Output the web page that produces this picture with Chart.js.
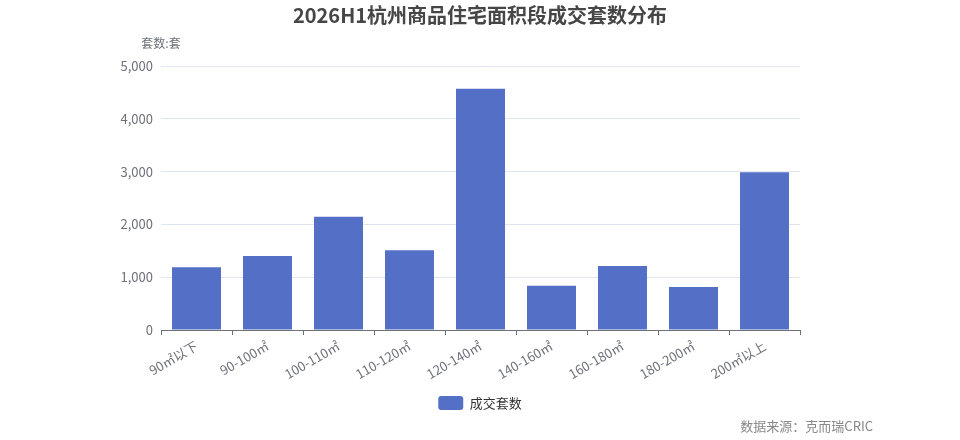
<!DOCTYPE html>
<html>
<head>
<meta charset="utf-8">
<script src="https://cdn.jsdelivr.net/npm/chart.js@4/dist/chart.umd.min.js"></script>
<style>
  html, body { margin: 0; padding: 0; background: #fff; }
  #wrap { width: 960px; height: 440px; position: relative; }
</style>
</head>
<body>
<div id="wrap"><canvas id="c"></canvas></div>
<script>
const chartTitle = '2026H1杭州商品住宅面积段成交套数分布';
const yAxisName = '套数:套';
const sourceText = '数据来源：克而瑞CRIC';
const seriesName = '成交套数';
const categories = ['90㎡以下', '90-100㎡', '100-110㎡', '110-120㎡', '120-140㎡', '140-160㎡', '160-180㎡', '180-200㎡', '200㎡以上'];
const values = [1190, 1400, 2145, 1510, 4570, 840, 1210, 815, 2990];
const yTicks = [0, 1000, 2000, 3000, 4000, 5000];

const FONT = '"Noto Sans CJK SC", "Noto Sans", sans-serif';
const AXIS_COLOR = '#6e7079';
const BAR_COLOR = '#5470c6';

const textPlugin = {
  id: 'texts',
  afterDraw(chart) {
    const ctx = chart.ctx;
    const area = chart.chartArea;
    ctx.save();
    ctx.textBaseline = 'middle';
    ctx.fillStyle = '#464646';
    ctx.font = 'bold 20px ' + FONT;
    ctx.textAlign = 'center';
    ctx.fillText(chartTitle, 480, 15);
    ctx.fillStyle = AXIS_COLOR;
    ctx.font = '12px ' + FONT;
    ctx.fillText(yAxisName, area.left, 43);
    ctx.fillStyle = '#888';
    ctx.font = '13px ' + FONT;
    ctx.textAlign = 'right';
    ctx.fillText(sourceText, 873, 426);
    ctx.restore();
  }
};

new Chart(document.getElementById('c'), {
  type: 'bar',
  data: {
    labels: categories,
    datasets: [{
      label: seriesName,
      data: values,
      backgroundColor: BAR_COLOR,
      borderWidth: 0,
      categoryPercentage: 1.0,
      barPercentage: 0.69
    }]
  },
  options: {
    responsive: true,
    maintainAspectRatio: false,
    animation: false,
    layout: { padding: { left: 0, right: 0, top: 66, bottom: 20 } },
    plugins: {
      legend: {
        position: 'bottom',
        labels: {
          boxWidth: 25,
          boxHeight: 14,
          useBorderRadius: true,
          borderRadius: 3,
          padding: 10,
          color: '#333',
          font: { size: 13, family: FONT }
        }
      },
      tooltip: { enabled: false },
      title: { display: false }
    },
    scales: {
      x: {
        afterFit(scale) { scale.height = 56; },
        grid: {
          offset: true,
          drawOnChartArea: false,
          drawTicks: true,
          tickLength: 5,
          color: AXIS_COLOR
        },
        border: { display: true, color: AXIS_COLOR },
        ticks: {
          color: AXIS_COLOR,
          font: { size: 13, family: FONT },
          maxRotation: 30,
          minRotation: 30,
          autoSkip: false,
          padding: 3
        }
      },
      y: {
        min: 0,
        max: 5000,
        afterFit(scale) { scale.width = 161; },
        afterBuildTicks(scale) { scale.ticks = yTicks.map(v => ({ value: v })); },
        grid: { color: '#e0e6f1', drawTicks: false },
        border: { display: false },
        ticks: {
          color: AXIS_COLOR,
          font: { size: 13, family: FONT },
          padding: 8,
          callback: v => v.toLocaleString('en-US')
        }
      },
      spacer: {
        position: 'right',
        display: true,
        min: 0,
        max: 1,
        afterFit(scale) { scale.width = 160; },
        grid: { display: false, drawTicks: false },
        border: { display: false },
        ticks: { display: false }
      }
    }
  },
  plugins: [textPlugin]
});
</script>
</body>
</html>
